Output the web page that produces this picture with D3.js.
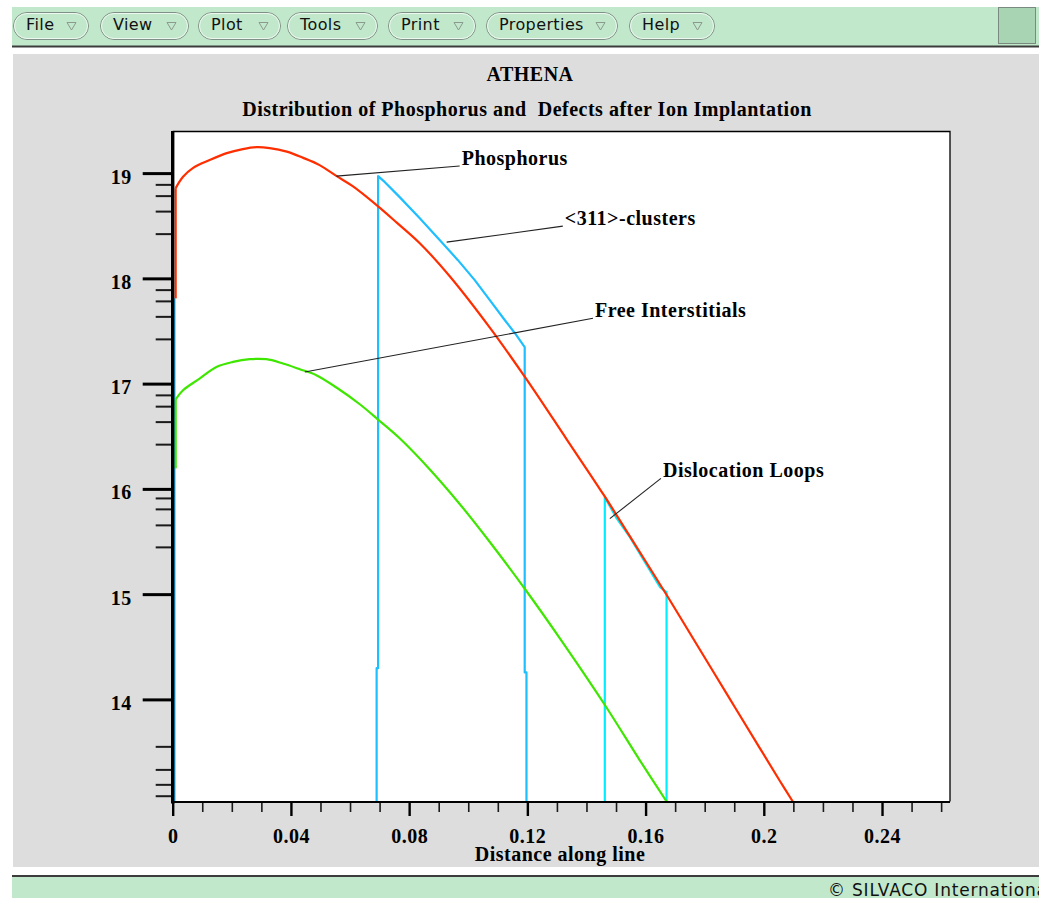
<!DOCTYPE html>
<html>
<head>
<meta charset="utf-8">
<script src="https://cdn.jsdelivr.net/npm/d3@7"></script>
<style>
  html, body { margin: 0; padding: 0; background: #ffffff; overflow: hidden; }
  svg { display: block; }
  .lbl { font-family: "Liberation Serif", "Times New Roman", serif; font-weight: bold; font-size: 20px; letter-spacing: 0.5px; fill: #000; }
  .ui { font-family: "DejaVu Sans", sans-serif; font-size: 16px; letter-spacing: 0.4px; fill: #111; }
</style>
</head>
<body>
<svg id="chart" width="1039" height="898"></svg>
<script>
// ---- Profiles along the cut line (x in microns, y = log10 concentration) ----
// The first points of each profile form the vertical rise at the surface.
const phosX = [0.0010, 0.0010, 0.0035, 0.0068, 0.0125, 0.0183, 0.0237, 0.0284, 0.0328, 0.0386, 0.0440,
               0.0497, 0.0555, 0.0609, 0.0690, 0.0760, 0.0836, 0.0938, 0.1073, 0.1198, 0.1333, 0.1459,
               0.1547, 0.1675, 0.1767, 0.1885, 0.1987, 0.2055, 0.2098];
const phosY = [17.81, 18.857, 18.965, 19.048, 19.124, 19.190, 19.228, 19.247, 19.238, 19.204, 19.147,
               19.076, 18.971, 18.876, 18.696, 18.525, 18.334, 18.018, 17.532, 17.038, 16.471, 15.940,
               15.548, 14.975, 14.550, 14.005, 13.535, 13.222, 13.03];
const phosRise = 2;   // points drawn as the straight surface rise

// <311> clusters: surface spike, then the band between ~0.07 and 0.12 um (null breaks the line)
const clusX = [0.0006, 0.0006, null, 0.0690, 0.0690, 0.0695, 0.0695, 0.0718, 0.0768, 0.0836, 0.0904,
               0.0965, 0.1022, 0.1073, 0.1124, 0.1158, 0.1191, 0.1191, 0.1197, 0.1197];
const clusY = [13.03, 17.81, null, 13.03, 14.297, 14.297, 18.971, 18.914, 18.772, 18.572, 18.363,
               18.173, 17.983, 17.793, 17.602, 17.479, 17.346, 14.256, 14.256, 13.03];

const intX = [0.0010, 0.0010, 0.0035, 0.0091, 0.0148, 0.0204, 0.0261, 0.0317, 0.0373, 0.0430, 0.0486,
              0.0554, 0.0633, 0.0694, 0.0768, 0.0870, 0.0971, 0.1073, 0.1198, 0.1310, 0.1459,
              0.1581, 0.1671];
const intY = [16.195, 16.851, 16.937, 17.048, 17.158, 17.206, 17.232, 17.232, 17.191, 17.137, 17.080,
              16.963, 16.804, 16.661, 16.481, 16.185, 15.857, 15.495, 15.025, 14.580, 13.961,
              13.419, 13.03];
const intRise = 2;

const loopX = [0.1462, 0.1462, 0.1500, 0.1547, 0.1649, 0.1671, 0.1671];
const loopY = [13.03, 15.922, 15.730, 15.542, 15.067, 15.019, 13.03];

// ---- Axis ticks ----
const xMajorTicks = [0, 0.04, 0.08, 0.12, 0.16, 0.2, 0.24];
const xMinorTicks = [0.01, 0.02, 0.03, 0.05, 0.06, 0.07, 0.09, 0.10, 0.11, 0.13, 0.14, 0.15,
                     0.17, 0.18, 0.19, 0.21, 0.22, 0.23, 0.25, 0.26];
const yMajorTicks = [14, 15, 16, 17, 18, 19];
const yMinorTicks = [18.893, 18.786, 18.639, 18.425,
                     17.893, 17.786, 17.639, 17.425,
                     16.893, 16.786, 16.639, 16.425,
                     15.914, 15.810, 15.658, 15.449,
                     13.554, 13.335, 13.193, 13.085];

// ---- Text ----
const titleText = "ATHENA";
const subtitleText = "Distribution of Phosphorus and  Defects after Ion Implantation";
const xAxisTitle = "Distance along line";
const menuItems = ["File", "View", "Plot", "Tools", "Print", "Properties", "Help"];
const menuLeft = [13, 100, 198, 287, 388, 486, 629];
const menuRight = [88, 188, 280, 377, 475, 617, 714];
const footerText = "\u00A9 SILVACO International";

// Callouts: anchor on a curve -> end of leader where the name sits
const calloutNames = ["Phosphorus", "<311>-clusters", "Free Interstitials", "Dislocation Loops"];
const calloutAnchorX = [0.0554, 0.0927, 0.0447, 0.1479];
const calloutAnchorY = [18.971, 18.344, 17.111, 15.717];
const calloutEndX = [0.0971, 0.1320, 0.1422, 0.1652];
const calloutEndY = [19.067, 18.496, 17.621, 16.100];

const colors = { phos: "#ff2e00", clus: "#1ebeff", inter: "#3ee600", loops: "#00eeff" };

const svg = d3.select("#chart");
const W = 1039, H = 898;

// ---- Window chrome ----
svg.append("rect").attr("width", W).attr("height", H).attr("fill", "#ffffff");
svg.append("rect").attr("x", 12).attr("y", 7).attr("width", W - 12).attr("height", 39).attr("fill", "#c2e8cc");
svg.append("rect").attr("x", 12).attr("y", 45.5).attr("width", W - 12).attr("height", 2).attr("fill", "#3c3c3c");
svg.append("rect").attr("x", 13).attr("y", 54).attr("width", W - 13).attr("height", 813).attr("fill", "#dddddd");
svg.append("rect").attr("x", 12).attr("y", 875).attr("width", W - 12).attr("height", 2).attr("fill", "#3c3c3c");
svg.append("rect").attr("x", 12).attr("y", 877).attr("width", W - 12).attr("height", H - 877).attr("fill", "#c2e8cc");

// menu buttons
menuItems.forEach((name, i) => {
  const bx = menuLeft[i], right = menuRight[i], w = right - bx;
  const g = svg.append("g");
  g.append("rect").attr("x", bx + 0.5).attr("y", 12.5).attr("width", w).attr("height", 27)
    .attr("rx", 13.5).attr("fill", "#c2e8cc").attr("stroke", "#7f9086").attr("stroke-width", 1);
  g.append("rect").attr("x", bx + 1.5).attr("y", 13.5).attr("width", w - 2).attr("height", 25)
    .attr("rx", 12.5).attr("fill", "none").attr("stroke", "#eef8f1").attr("stroke-width", 1);
  g.append("text").attr("class", "ui").attr("x", bx + 13).attr("y", 30).text(name);
  const triX = right - 21;
  g.append("path").attr("d", `M${triX},${22.5} L${triX + 9},${22.5} L${triX + 4.5},${30} Z`)
    .attr("fill", "none").attr("stroke", "#8a9a90").attr("stroke-width", 1);
});
svg.append("rect").attr("x", 998.5).attr("y", 7.5).attr("width", 37).attr("height", 36)
  .attr("fill", "#a9d4b4").attr("stroke", "#7a8a80").attr("stroke-width", 1);

svg.append("text").attr("class", "ui").attr("x", 828).attr("y", 896)
  .style("font-size", "17px").style("letter-spacing", "0.8px").text(footerText);

// ---- Plot ----
const x = d3.scaleLinear().domain([0, 0.263]).range([172.7, 950]);
const y = d3.scaleLinear().domain([13.03, 19.4]).range([801.5, 131]);

svg.append("rect").attr("x", x(0)).attr("y", y(19.4)).attr("width", x(0.263) - x(0)).attr("height", y(13.03) - y(19.4))
  .attr("fill", "#ffffff");
// top and right frame
svg.append("path").attr("d", `M${x(0)},${y(19.4) + 0.5} H${x(0.263)} V${y(13.03)}`)
  .attr("fill", "none").attr("stroke", "#000").attr("stroke-width", 1.3);

// curves: smooth profiles, straight segments for surface rises and the defect bands
const smooth = d3.line().x(d => x(d[0])).y(d => y(d[1])).curve(d3.curveCatmullRom.alpha(0.5));
const straight = d3.line().defined(d => d[0] != null).x(d => x(d[0])).y(d => y(d[1]));
const zipXY = (xs, ys) => xs.map((v, i) => [v, ys[i]]);
const curves = svg.append("g");
const drawPath = (pts, gen, c) => curves.append("path").datum(pts).attr("d", gen)
  .attr("fill", "none").attr("stroke", c).attr("stroke-width", 2.2).attr("stroke-linejoin", "round");

drawPath(zipXY(clusX, clusY), straight, colors.clus);
drawPath(zipXY(loopX, loopY), straight, colors.loops);
const intPts = zipXY(intX, intY);
drawPath(intPts.slice(0, intRise), straight, colors.inter);
drawPath(intPts.slice(intRise - 1), smooth, colors.inter);
const phosPts = zipXY(phosX, phosY);
drawPath(phosPts.slice(0, phosRise), straight, colors.phos);
drawPath(phosPts.slice(phosRise - 1), smooth, colors.phos);

// callouts
const callouts = svg.append("g");
calloutNames.forEach((name, i) => {
  const ax = x(calloutAnchorX[i]), ay = y(calloutAnchorY[i]);
  const ex = x(calloutEndX[i]), ey = y(calloutEndY[i]);
  callouts.append("line").attr("x1", ax).attr("y1", ay).attr("x2", ex).attr("y2", ey)
    .attr("stroke", "#222").attr("stroke-width", 1.1);
  callouts.append("text").attr("class", "lbl").attr("x", ex + 2).attr("y", ey - 1).text(name);
});

// axes
const styleAxis = (g, w, col) => {
  g.select(".domain").remove();
  g.selectAll(".tick line").attr("stroke", col).attr("stroke-width", w);
  g.selectAll(".tick text").attr("class", "lbl");
};
svg.append("g").attr("transform", `translate(${x(0)},0)`)
  .call(d3.axisLeft(y).tickValues(yMinorTicks).tickSize(17).tickFormat(""))
  .call(g => styleAxis(g, 2, "#1a1a1a"));
svg.append("g").attr("transform", `translate(${x(0)},0)`)
  .call(d3.axisLeft(y).tickValues(yMajorTicks).tickSize(30).tickPadding(11).tickFormat(d3.format("d")))
  .call(g => styleAxis(g, 3, "#000"))
  .call(g => g.selectAll(".tick text").attr("dy", "0.5em"));

const xAxisY = 802;
svg.append("g").attr("transform", `translate(0,${xAxisY})`)
  .call(d3.axisBottom(x).tickValues(xMinorTicks).tickSize(10).tickFormat(""))
  .call(g => styleAxis(g, 1.6, "#1a1a1a"));
svg.append("g").attr("transform", `translate(0,${xAxisY})`)
  .call(d3.axisBottom(x).tickValues(xMajorTicks).tickSize(14).tickPadding(13).tickFormat(d3.format("~g")))
  .call(g => styleAxis(g, 2.4, "#000"));

// axis lines
svg.append("line").attr("x1", x(0)).attr("x2", x(0)).attr("y1", y(19.4)).attr("y2", xAxisY + 1.5)
  .attr("stroke", "#000").attr("stroke-width", 3.4);
svg.append("line").attr("x1", x(0) - 1.5).attr("x2", x(0.263)).attr("y1", xAxisY).attr("y2", xAxisY)
  .attr("stroke", "#000").attr("stroke-width", 2);

// titles
svg.append("text").attr("class", "lbl").attr("x", 530).attr("y", 81).attr("text-anchor", "middle").text(titleText);
svg.append("text").attr("class", "lbl").attr("x", 527).attr("y", 116).attr("text-anchor", "middle")
  .style("white-space", "pre").text(subtitleText);
svg.append("text").attr("class", "lbl").attr("x", 560).attr("y", 861).attr("text-anchor", "middle").text(xAxisTitle);
</script>
</body>
</html>
